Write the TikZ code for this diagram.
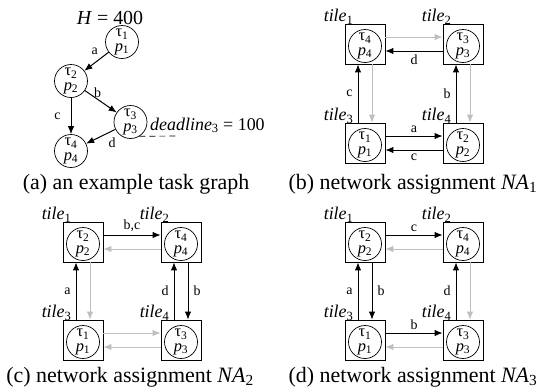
\documentclass[tikz,border=0pt]{standalone}
\usepackage{fontspec}
\setmainfont{Liberation Serif}
\usetikzlibrary{positioning, arrows.meta}

\begin{document}
\begin{tikzpicture}[x=1bp, y=-1bp,
    tile/.style={rectangle, draw=black, line width=0.8bp, minimum size=40bp, inner sep=0pt},
    task/.style={circle, draw=black, line width=0.7bp, minimum size=33bp, inner sep=0pt, align=center, font=\fontsize{16.5}{14.5}\selectfont},
    lnk/.style={-{Latex[length=8bp, width=6.5bp]}, line width=1bp},
    idle/.style={lnk, black!25},
    lbl/.style={font=\fontsize{14}{14}\selectfont, inner sep=3bp},
    tilelbl/.style={font=\fontsize{18}{18}\selectfont, anchor=base, xshift=-6bp, yshift=2bp},
    captxt/.style={font=\fontsize{22}{22}\selectfont, anchor=base}]
\useasboundingbox (0,0) rectangle (537,391);

% (a) task graph
\node[font=\fontsize{20}{20}\selectfont] (hp) at (110,18) {\textit{H} = 400};
\node[task] (a1) at (122,42) {τ\textsubscript{1}\\\textit{p}\textsubscript{1}};
\node[task] (a2) at (71,81) {τ\textsubscript{2}\\\textit{p}\textsubscript{2}};
\node[task] (a3) at (130.5,122) {τ\textsubscript{3}\\\textit{p}\textsubscript{3}};
\node[task] (a4) at (71,151) {τ\textsubscript{4}\\\textit{p}\textsubscript{4}};
\draw[lnk] (a1) -- node[lbl, above left, pos=0.3] {a} (a2);
\draw[lnk] (a2) -- node[lbl, above, pos=0.4, inner sep=1bp] {b} (a3);
\draw[lnk] (a2) -- node[lbl, left=7bp] {c} (a4);
\draw[lnk] (a3) -- node[lbl, below right, pos=0.35] {d} (a4);
\coordinate (dl) at (177,136);
\draw[dash pattern=on 6bp off 4bp, line width=0.7bp] (a3.-58) -- (dl);
\node[anchor=base west, inner sep=0pt, font=\fontsize{18}{18}\selectfont] (dead) at (150,130) {\textit{deadline}\textsubscript{3} = 100};
\node[captxt] (capa) at (136,189) {(a) an example task graph};

% (b) NA1
\node[tile, label={[tilelbl]north west:\textit{tile}\textsubscript{1}}] (b1) at (365,44) {};
\node[tile, label={[tilelbl]north west:\textit{tile}\textsubscript{2}}] (b2) at (463,44) {};
\node[tile, label={[tilelbl]north west:\textit{tile}\textsubscript{3}}] (b3) at (365,143) {};
\node[tile, label={[tilelbl]north west:\textit{tile}\textsubscript{4}}] (b4) at (463,143) {};
\node[task] (bt1) at ([yshift=-2bp]b1.center) {τ\textsubscript{4}\\\textit{p}\textsubscript{4}};
\node[task] (bt2) at ([yshift=-2bp]b2.center) {τ\textsubscript{3}\\\textit{p}\textsubscript{3}};
\node[task] (bt3) at ([yshift=-2bp]b3.center) {τ\textsubscript{1}\\\textit{p}\textsubscript{1}};
\node[task] (bt4) at ([yshift=-2bp]b4.center) {τ\textsubscript{2}\\\textit{p}\textsubscript{2}};
\draw[idle] ([yshift=7bp]b1.east) -- ([yshift=7bp]b2.west);
\draw[lnk] ([yshift=-7bp]b2.west) -- node[lbl, below] {d} ([yshift=-7bp]b1.east);
\draw[lnk] ([xshift=-7bp]b3.north) -- node[lbl, left=2bp] {c} ([xshift=-7bp]b1.south);
\draw[idle] ([xshift=7bp]b1.south) -- ([xshift=7bp]b3.north);
\draw[lnk] ([xshift=-7bp]b4.north) -- node[lbl, left=2bp] {b} ([xshift=-7bp]b2.south);
\draw[idle] ([xshift=7bp]b2.south) -- ([xshift=7bp]b4.north);
\draw[lnk] ([yshift=7bp]b3.east) -- node[lbl, above] {a} ([yshift=7bp]b4.west);
\draw[lnk] ([yshift=-7bp]b4.west) -- node[lbl, below] {c} ([yshift=-7bp]b3.east);
\node[captxt] (capb) at (413,189) {(b) network assignment \textit{NA}\textsubscript{1}};

% (c) NA2
\node[tile, label={[tilelbl]north west:\textit{tile}\textsubscript{1}}] (c1) at (83,242) {};
\node[tile, label={[tilelbl]north west:\textit{tile}\textsubscript{2}}] (c2) at (181,242) {};
\node[tile, label={[tilelbl]north west:\textit{tile}\textsubscript{3}}] (c3) at (83,340) {};
\node[tile, label={[tilelbl]north west:\textit{tile}\textsubscript{4}}] (c4) at (181,340) {};
\node[task] (ct1) at ([yshift=-2bp]c1.center) {τ\textsubscript{2}\\\textit{p}\textsubscript{2}};
\node[task] (ct2) at ([yshift=-2bp]c2.center) {τ\textsubscript{4}\\\textit{p}\textsubscript{4}};
\node[task] (ct3) at ([yshift=-2bp]c3.center) {τ\textsubscript{1}\\\textit{p}\textsubscript{1}};
\node[task] (ct4) at ([yshift=-2bp]c4.center) {τ\textsubscript{3}\\\textit{p}\textsubscript{3}};
\draw[lnk] ([yshift=7bp]c1.east) -- node[lbl, above] {b,c} ([yshift=7bp]c2.west);
\draw[idle] ([yshift=-7bp]c2.west) -- ([yshift=-7bp]c1.east);
\draw[lnk] ([xshift=-7bp]c3.north) -- node[lbl, left=2bp] {a} ([xshift=-7bp]c1.south);
\draw[idle] ([xshift=7bp]c1.south) -- ([xshift=7bp]c3.north);
\draw[lnk] ([xshift=-7bp]c4.north) -- node[lbl, left=2bp] {d} ([xshift=-7bp]c2.south);
\draw[lnk] ([xshift=7bp]c2.south) -- node[lbl, right=2bp] {b} ([xshift=7bp]c4.north);
\draw[idle] ([yshift=7bp]c3.east) -- ([yshift=7bp]c4.west);
\draw[idle] ([yshift=-7bp]c4.west) -- ([yshift=-7bp]c3.east);
\node[captxt] (capc) at (130,382) {(c) network assignment \textit{NA}\textsubscript{2}};

% (d) NA3
\node[tile, label={[tilelbl]north west:\textit{tile}\textsubscript{1}}] (d1) at (365,242) {};
\node[tile, label={[tilelbl]north west:\textit{tile}\textsubscript{2}}] (d2) at (463,242) {};
\node[tile, label={[tilelbl]north west:\textit{tile}\textsubscript{3}}] (d3) at (365,340) {};
\node[tile, label={[tilelbl]north west:\textit{tile}\textsubscript{4}}] (d4) at (463,340) {};
\node[task] (dt1) at ([yshift=-2bp]d1.center) {τ\textsubscript{2}\\\textit{p}\textsubscript{2}};
\node[task] (dt2) at ([yshift=-2bp]d2.center) {τ\textsubscript{4}\\\textit{p}\textsubscript{4}};
\node[task] (dt3) at ([yshift=-2bp]d3.center) {τ\textsubscript{1}\\\textit{p}\textsubscript{1}};
\node[task] (dt4) at ([yshift=-2bp]d4.center) {τ\textsubscript{3}\\\textit{p}\textsubscript{3}};
\draw[lnk] ([yshift=7bp]d1.east) -- node[lbl, above] {c} ([yshift=7bp]d2.west);
\draw[idle] ([yshift=-7bp]d2.west) -- ([yshift=-7bp]d1.east);
\draw[lnk] ([xshift=-7bp]d3.north) -- node[lbl, left=2bp] {a} ([xshift=-7bp]d1.south);
\draw[lnk] ([xshift=7bp]d1.south) -- node[lbl, right=2bp] {b} ([xshift=7bp]d3.north);
\draw[lnk] ([xshift=-7bp]d4.north) -- node[lbl, left=2bp] {d} ([xshift=-7bp]d2.south);
\draw[idle] ([xshift=7bp]d2.south) -- ([xshift=7bp]d4.north);
\draw[lnk] ([yshift=7bp]d3.east) -- node[lbl, above] {b} ([yshift=7bp]d4.west);
\draw[idle] ([yshift=-7bp]d4.west) -- ([yshift=-7bp]d3.east);
\node[captxt] (capd) at (413,382) {(d) network assignment \textit{NA}\textsubscript{3}};
\end{tikzpicture}
\end{document}
